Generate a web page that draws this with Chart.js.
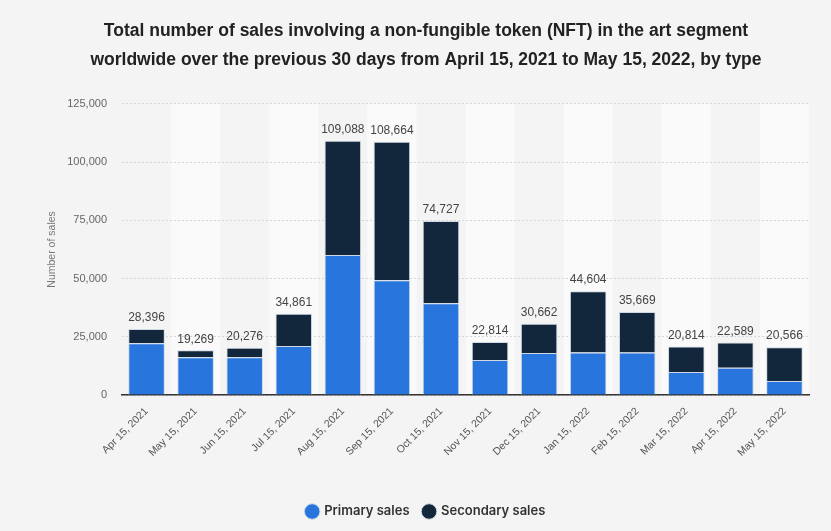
<!DOCTYPE html>
<html>
<head>
<meta charset="utf-8">
<title>NFT art sales by type</title>
<script src="https://cdn.jsdelivr.net/npm/chart.js@4.4.1/dist/chart.umd.min.js"></script>
<style>
  html, body { margin: 0; padding: 0; background: #f4f4f4; }
  #wrap { width: 831px; height: 531px; }
</style>
</head>
<body>
<div id="wrap"><canvas id="graph" width="831" height="531"></canvas></div>
<script>
const months = ['Apr 15, 2021', 'May 15, 2021', 'Jun 15, 2021', 'Jul 15, 2021', 'Aug 15, 2021',
  'Sep 15, 2021', 'Oct 15, 2021', 'Nov 15, 2021', 'Dec 15, 2021', 'Jan 15, 2022',
  'Feb 15, 2022', 'Mar 15, 2022', 'Apr 15, 2022', 'May 15, 2022'];
const totalSales = [28396, 19269, 20276, 34861, 109088, 108664, 74727, 22814, 30662, 44604, 35669, 20814, 22589, 20566];
const primarySales = [22200, 16200, 16200, 21050, 60100, 49300, 39400, 15050, 18050, 18300, 18300, 9900, 11750, 6000];
// secondary part is whatever is left of the total
const secondarySales = totalSales.map((t, i) => t - primarySales[i]);
const yTicks = [0, 25000, 50000, 75000, 100000, 125000];

const fmt = n => n.toLocaleString('en-US');

// lighter band behind every other month
const bands = {
  id: 'bands',
  beforeDraw(chart) {
    const { ctx, chartArea, scales } = chart;
    const x = scales.x;
    const step = x.width / months.length;
    ctx.save();
    ctx.fillStyle = '#fafafa';
    months.forEach((m, i) => {
      if (i % 2 === 1) {
        const cx = x.getPixelForValue(i);
        ctx.fillRect(cx - step / 2, chartArea.top, step, chartArea.bottom - chartArea.top);
      }
    });
    ctx.restore();
  }
};

// total on top of each stack
const totals = {
  id: 'totals',
  afterDatasetsDraw(chart) {
    const { ctx } = chart;
    const meta = chart.getDatasetMeta(1);
    ctx.save();
    ctx.font = '12px "Liberation Sans", Arial, sans-serif';
    ctx.fillStyle = '#444';
    ctx.textAlign = 'center';
    ctx.textBaseline = 'bottom';
    meta.data.forEach((bar, i) => {
      ctx.fillText(fmt(totalSales[i]), bar.x, bar.y - 5);
    });
    ctx.restore();
  }
};

const ctx = document.getElementById('graph').getContext('2d');
const chart = new Chart(ctx, {
  type: 'bar',
  data: {
    labels: months,
    datasets: [{
      label: 'Primary sales',
      data: primarySales,
      backgroundColor: '#2876dd',
      borderColor: '#cfd8e3',
      borderWidth: 1
    }, {
      label: 'Secondary sales',
      data: secondarySales,
      backgroundColor: '#12263c',
      borderColor: '#cfd8e3',
      borderWidth: 1
    }]
  },
  options: {
    responsive: false,
    animation: false,
    barPercentage: 0.745,
    categoryPercentage: 1,
    layout: { padding: { left: 43, right: 22, top: 12, bottom: 3 } },
    plugins: {
      title: {
        display: true,
        text: ['Total number of sales involving a non-fungible token (NFT) in the art segment',
          'worldwide over the previous 30 days from April 15, 2021 to May 15, 2022, by type'],
        font: { family: '"Liberation Sans", Arial, sans-serif', size: 17.5, weight: 'bold', lineHeight: 1.65 },
        color: '#222',
        padding: { top: 5, bottom: 29 }
      },
      legend: {
        position: 'bottom',
        labels: {
          usePointStyle: true,
          pointStyle: 'circle',
          boxWidth: 11,
          boxHeight: 11,
          padding: 14,
          color: '#333',
          font: { family: 'Inter, "Liberation Sans", sans-serif', size: 13, weight: '600' }
        }
      },
      tooltip: { enabled: false }
    },
    scales: {
      x: {
        stacked: true,
        grid: { display: false },
        border: { display: true, color: '#333', width: 1.5 },
        afterFit: s => { s.height += 30; },
        ticks: {
          color: '#555',
          padding: 2,
          font: { family: '"Liberation Sans", Arial, sans-serif', size: 10.5 },
          minRotation: 45,
          maxRotation: 45
        }
      },
      y: {
        stacked: true,
        min: 0,
        max: 125000,
        afterBuildTicks: axis => { axis.ticks = yTicks.map(v => ({ value: v })); },
        afterFit: s => { s.width = 79; },
        grid: { color: '#d6d6d6', drawTicks: false },
        border: { display: false, dash: [2, 2] },
        ticks: {
          color: '#666',
          padding: 15,
          font: { family: '"Liberation Sans", Arial, sans-serif', size: 11 },
          callback: v => fmt(v)
        },
        title: {
          display: true,
          text: 'Number of sales',
          color: '#777',
          font: { family: '"Liberation Sans", Arial, sans-serif', size: 10.5 },
          padding: { top: 3, bottom: 0 }
        }
      }
    }
  },
  plugins: [bands, totals]
});
</script>
</body>
</html>
